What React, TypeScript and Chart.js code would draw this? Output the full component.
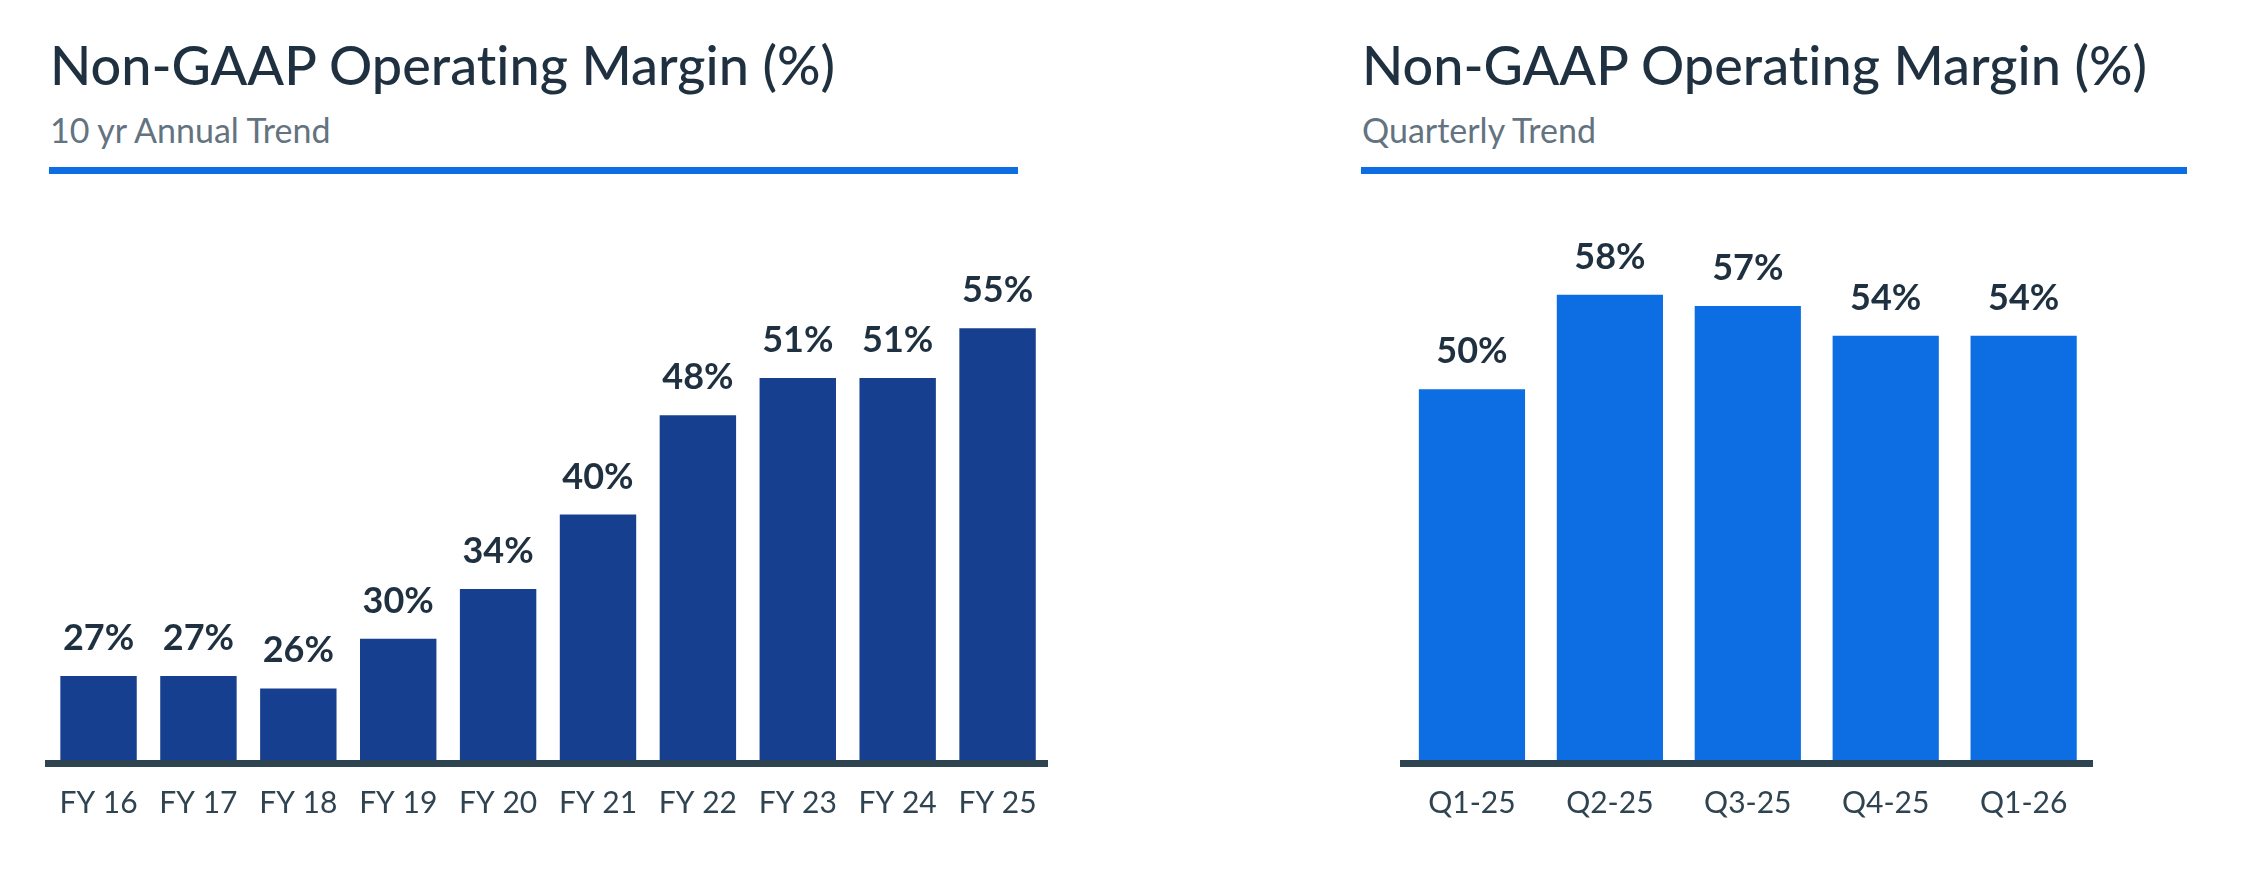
import React, { useEffect, useRef } from "react";
import { Chart, registerables } from "chart.js";

Chart.register(...registerables);

const annualLabels = ["FY 16", "FY 17", "FY 18", "FY 19", "FY 20", "FY 21", "FY 22", "FY 23", "FY 24", "FY 25"];
const annualValues = [27, 27, 26, 30, 34, 40, 48, 51, 51, 55];

const quarterLabels = ["Q1-25", "Q2-25", "Q3-25", "Q4-25", "Q1-26"];
const quarterValues = [50.1, 57.7, 56.8, 54.4, 54.4];

const FONT = "Lato, 'Noto Sans', sans-serif";
const TEXT_DARK = "#1f3140";
const TICK_COLOR = "#2f4450";
const AXIS_COLOR = "#2e4450";

const valueLabelPlugin = {
  id: "valueLabels",
  afterDatasetsDraw(chart: any) {
    const ctx = chart.ctx;
    const meta = chart.getDatasetMeta(0);
    const data = chart.data.datasets[0].data as number[];
    ctx.save();
    ctx.font = `700 36px ${FONT}`;
    ctx.fillStyle = TEXT_DARK;
    ctx.textAlign = "center";
    ctx.textBaseline = "alphabetic";
    meta.data.forEach((bar: any, i: number) => {
      ctx.fillText(`${Math.round(data[i])}%`, bar.x, bar.y - 26);
    });
    ctx.restore();
  },
};

type BarChartProps = {
  labels: string[];
  values: number[];
  color: string;
  barPct: number;
  width: number;
  height: number;
  padLeft: number;
  padRight: number;
  padTop: number;
  axisHeight: number;
};

function BarChart(props: BarChartProps) {
  const ref = useRef<HTMLCanvasElement | null>(null);
  useEffect(() => {
    if (!ref.current) return;
    const chart = new Chart(ref.current, {
      type: "bar",
      data: {
        labels: props.labels,
        datasets: [
          {
            data: props.values,
            backgroundColor: props.color,
            borderWidth: 0,
            categoryPercentage: 1,
            barPercentage: props.barPct,
          },
        ],
      },
      options: {
        animation: false,
        responsive: false,
        devicePixelRatio: 1,
        layout: {
          padding: { left: props.padLeft, right: props.padRight, top: props.padTop, bottom: 0 },
        },
        plugins: {
          legend: { display: false },
          tooltip: { enabled: false },
          title: { display: false },
        },
        scales: {
          x: {
            grid: { display: false, drawTicks: false, lineWidth: 0 },
            border: { display: true, width: 7, color: AXIS_COLOR, z: 1 },
            ticks: {
              color: TICK_COLOR,
              font: { family: FONT, size: 30, weight: "400" },
              padding: 22,
              maxRotation: 0,
              autoSkip: false,
            },
            afterFit(scale: any) {
              scale.height = props.axisHeight;
            },
          },
          y: {
            display: false,
            min: 20,
            max: 65,
          },
        },
      },
      plugins: [valueLabelPlugin],
    } as any);
    return () => chart.destroy();
  }, []);
  return (
    <canvas
      ref={ref}
      width={props.width}
      height={props.height}
      style={{ width: props.width, height: props.height, display: "block" }}
    />
  );
}

function Header(props: { left: number; lineWidth: number; title: string; subtitle: string }) {
  return (
    <>
      <div
        style={{
          position: "absolute",
          left: props.left,
          top: 38,
          fontFamily: FONT,
          fontSize: 54,
          fontWeight: 500,
          lineHeight: 1,
          color: TEXT_DARK,
          whiteSpace: "nowrap",
          fontVariantLigatures: "none",
        }}
      >
        {props.title}
      </div>
      <div
        style={{
          position: "absolute",
          left: props.left,
          top: 112.5,
          fontFamily: FONT,
          fontSize: 34,
          fontWeight: 400,
          lineHeight: 1,
          color: "#63737f",
          whiteSpace: "nowrap",
          fontVariantLigatures: "none",
        }}
      >
        {props.subtitle}
      </div>
      <div
        style={{
          position: "absolute",
          left: props.left - 1,
          top: 167,
          width: props.lineWidth,
          height: 7,
          background: "#0d6ee3",
        }}
      />
    </>
  );
}

export default function App() {
  const canvasTop = 190;
  const canvasHeight = 876 - canvasTop;
  const chartBottom = 763 - canvasTop;
  const chartTop = 763 - (65 - 20) * 12.42 - canvasTop;
  const axisHeight = canvasHeight - chartBottom;
  return (
    <div
      style={{
        position: "absolute",
        left: 0,
        top: 0,
        width: 2244,
        height: 876,
        background: "#ffffff",
        overflow: "hidden",
      }}
    >
      <Header left={50} lineWidth={969} title="Non-GAAP Operating Margin (%)" subtitle="10 yr Annual Trend" />
      <Header left={1362} lineWidth={826} title="Non-GAAP Operating Margin (%)" subtitle="Quarterly Trend" />
      <div style={{ position: "absolute", left: 0, top: canvasTop }}>
        <BarChart
          labels={annualLabels}
          values={annualValues}
          color="#173f8f"
          barPct={0.765}
          width={1122}
          height={canvasHeight}
          padLeft={48.6}
          padRight={1122 - 1047.5}
          padTop={chartTop}
          axisHeight={axisHeight}
        />
      </div>
      <div style={{ position: "absolute", left: 1300, top: canvasTop }}>
        <BarChart
          labels={quarterLabels}
          values={quarterValues}
          color="#0d6ee3"
          barPct={0.77}
          width={944}
          height={canvasHeight}
          padLeft={103}
          padRight={2244 - 2092.6}
          padTop={chartTop}
          axisHeight={axisHeight}
        />
      </div>
    </div>
  );
}
